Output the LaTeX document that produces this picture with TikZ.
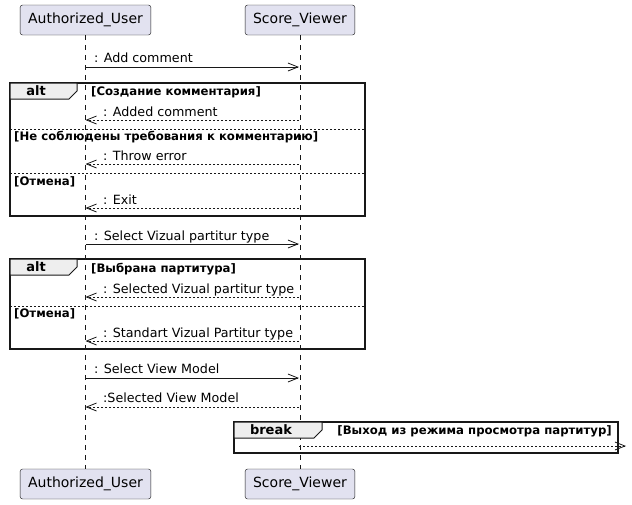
\documentclass[tikz,border=0pt]{standalone}
\usepackage{fontspec}
\setmainfont{DejaVu Sans}
\usepackage{xcolor}
\usepackage{tikz}
\usetikzlibrary{arrows.meta}

\definecolor{ink}{HTML}{181818}
\definecolor{partfill}{HTML}{E2E2F0}
\definecolor{tabfill}{HTML}{EEEEEE}

\begin{document}
\begin{tikzpicture}[x=1pt, y=-1pt,
    participant/.style={draw=ink, fill=partfill, rounded corners=2.5pt, minimum height=30pt, inner xsep=8pt, font=\fontsize{14}{16}\selectfont},
    lifeline/.style={ink, line width=0.5pt, dash pattern=on 5pt off 5pt},
    msg/.style={ink, line width=0.8pt, -{Straight Barb[length=10pt,width=8pt]}},
    reply/.style={msg, dash pattern=on 2pt off 2pt},
    lbl/.style={font=\fontsize{12.7}{15}\selectfont, inner sep=0pt, anchor=mid west},
    groupbox/.style={draw=ink, line width=1.5pt},
    grouptab/.style={draw=ink, fill=tabfill, line width=1pt},
    tabtext/.style={font=\fontsize{13}{15}\selectfont\bfseries, inner sep=0pt},
    guard/.style={font=\fontsize{11.7}{13}\selectfont\bfseries, inner sep=0pt},
    elsesep/.style={ink, line width=0.8pt, dash pattern=on 2pt off 2pt}]
    \useasboundingbox (0,0) rectangle (632,504);

    % Participants
    \node[participant] (userTop) at (85.5,20) {Authorized\_User};
    \node[participant] (viewerTop) at (300,20) {Score\_Viewer};
    \node[participant] (userBot) at (85.5,484) {Authorized\_User};
    \node[participant] (viewerBot) at (300,484) {Score\_Viewer};

    % Lifelines
    \draw[lifeline] (userTop.south) -- (userBot.north);
    \draw[lifeline] (viewerTop.south) -- (viewerBot.north);

    % Message rows on the lifelines
    \foreach \n/\y in {1/67,2/120,3/164,4/208,5/244,6/297,7/341,8/378,9/407,10/446}{
        \coordinate (u\n) at (85.5,\y);
        \coordinate (v\n) at (299,\y);
    }
    \coordinate (exit) at (626,446);

    % Add comment
    \draw[msg] (u1) -- (v1);
    \node[lbl] (m1) at (94,59.5) {: Add comment};

    % alt: comment
    \draw[groupbox] (10,83) rectangle (365,216);
    \draw[grouptab] (10,83) -- (77,83) -- (77,91) -- (69,99) -- (10,99) -- cycle;
    \node[tabtext] (alt1) at (36,91) {alt};
    \node[guard, anchor=mid west] (g1) at (91,92.5) {[Создание комментария]};
    \draw[reply] (v2) -- (u2);
    \node[lbl] (m2) at (103,113.5) {: Added comment};
    \draw[elsesep] (10,129) -- (365,129);
    \node[guard, anchor=mid west] (g2) at (14,137.5) {[Не соблюдены требования к комментарию]};
    \draw[reply] (v3) -- (u3);
    \node[lbl] (m3) at (103,157.5) {: Throw error};
    \draw[elsesep] (10,173) -- (365,173);
    \node[guard, anchor=mid west] (g3) at (14,182.5) {[Отмена]};
    \draw[reply] (v4) -- (u4);
    \node[lbl] (m4) at (103,201.5) {: Exit};

    % Select partitur type
    \draw[msg] (u5) -- (v5);
    \node[lbl] (m5) at (94,237.5) {: Select Vizual partitur type};

    % alt: partitur
    \draw[groupbox] (10,259) rectangle (365,349);
    \draw[grouptab] (10,259) -- (77,259) -- (77,267) -- (69,275) -- (10,275) -- cycle;
    \node[tabtext] (alt2) at (36,267) {alt};
    \node[guard, anchor=mid west] (g4) at (91,269.5) {[Выбрана партитура]};
    \draw[reply] (v6) -- (u6);
    \node[lbl] (m6) at (103,290.5) {: Selected Vizual partitur type};
    \draw[elsesep] (10,306) -- (365,306);
    \node[guard, anchor=mid west] (g5) at (14,314.5) {[Отмена]};
    \draw[reply] (v7) -- (u7);
    \node[lbl] (m7) at (103,334.5) {: Standart Vizual Partitur type};

    % View model
    \draw[msg] (u8) -- (v8);
    \node[lbl] (m8) at (94,370.5) {: Select View Model};
    \draw[reply] (v9) -- (u9);
    \node[lbl] (m9) at (103,399.5) {:Selected View Model};

    % break
    \draw[groupbox] (234,422) rectangle (618,453);
    \draw[grouptab] (234,422) -- (322,422) -- (322,430) -- (314,438) -- (234,438) -- cycle;
    \node[tabtext] (brk) at (271,430) {break};
    \node[guard, anchor=mid east] (g6) at (612,431.5) {[Выход из режима просмотра партитур]};
    \draw[reply] (v10) -- (exit);
\end{tikzpicture}
\end{document}
